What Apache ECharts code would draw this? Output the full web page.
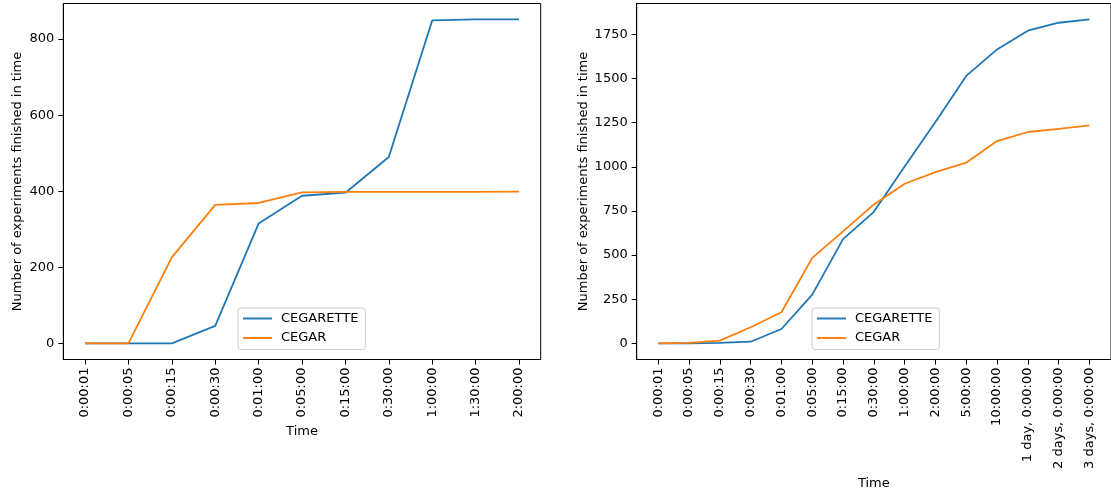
<!DOCTYPE html>
<html>
<head>
<meta charset="utf-8">
<script src="https://cdn.jsdelivr.net/npm/echarts@6/dist/echarts.min.js"></script>
<style>
html,body{margin:0;padding:0;background:#fff;}
#c{width:1111px;height:495px;}
</style>
</head>
<body>
<div id="c"></div>
<script>
// ---- data ----
const leftCategories = ['0:00:01','0:00:05','0:00:15','0:00:30','0:01:00','0:05:00','0:15:00','0:30:00','1:00:00','1:30:00','2:00:00'];
const leftCegarette = [0, 0, 0, 46, 315, 388, 396, 490, 849, 852, 852];
const leftCegar = [0, 0, 226, 364, 369, 397, 398, 398, 398, 398, 399];
const leftYTicks = [0, 200, 400, 600, 800];

const rightCategories = ['0:00:01','0:00:05','0:00:15','0:00:30','0:01:00','0:05:00','0:15:00','0:30:00','1:00:00','2:00:00','5:00:00','10:00:00','1 day, 0:00:00','2 days, 0:00:00','3 days, 0:00:00'];
const rightCegarette = [0, 0, 2, 9, 81, 276, 590, 745, 1002, 1254, 1515, 1665, 1771, 1816, 1835];
const rightCegar = [0, 2, 15, 91, 176, 484, 634, 787, 904, 970, 1023, 1146, 1197, 1215, 1235];
const rightYTicks = [0, 250, 500, 750, 1000, 1250, 1500, 1750];

const seriesNames = ['CEGARETTE', 'CEGAR'];
const colors = ['#1f77b4', '#ff7f0e'];
const yName = 'Number of experiments finished in time';
const xName = 'Time';

// ---- chart ----
const FONT = 'DejaVu Sans';
const FS = 13;
function pairs(arr){ return arr.map((v,i)=>[i,v]); }
function idxList(n){ return Array.from({length:n},(_,i)=>i); }

function xAxis(gridIndex, cats, pad, gap){
  return {
    type:'value', gridIndex, min:-pad, max:cats.length-1+pad,
    name:xName, nameLocation:'middle', nameGap:gap,
    nameTextStyle:{fontFamily:FONT, fontSize:FS, color:'#000'},
    axisLine:{show:true, onZero:false, lineStyle:{color:'#000', width:1}},
    axisTick:{show:true, inside:false, length:5, lineStyle:{color:'#000'}, customValues:idxList(cats.length)},
    axisLabel:{rotate:90, fontFamily:FONT, fontSize:FS, color:'#000', margin:8,
      customValues:idxList(cats.length), formatter:v=>cats[Math.round(v)]},
    splitLine:{show:false}
  };
}
function yAxis(gridIndex, min, max, ticks, gap){
  return {
    type:'value', gridIndex, min, max,
    name:yName, nameLocation:'middle', nameGap:gap,
    nameTextStyle:{fontFamily:FONT, fontSize:FS, color:'#000'},
    axisLine:{show:true, onZero:false, lineStyle:{color:'#000', width:1}},
    axisTick:{show:true, inside:false, length:5, lineStyle:{color:'#000'}, customValues:ticks},
    axisLabel:{fontFamily:FONT, fontSize:FS, color:'#000', margin:9, customValues:ticks,
      formatter:v=>String(v)},
    splitLine:{show:false}
  };
}
function legend(left, top){
  return {
    orient:'vertical', left, top,
    data: seriesNames,
    icon:'path://M0,0 L30,0 L30,2 L0,2 Z',
    itemWidth:29, itemHeight:14, itemGap:6.5,
    padding:[4,7,5,5],
    borderColor:'#cccccc', borderWidth:1, borderRadius:3,
    backgroundColor:'rgba(255,255,255,0.8)',
    textStyle:{fontFamily:FONT, fontSize:FS, color:'#000', padding:[0,0,0,4]}
  };
}

const chart = echarts.init(document.getElementById('c'), null, {renderer:'canvas'});
const mkSeries = (name, data, ci, xi) => ({
  name, type:'line', xAxisIndex:xi, yAxisIndex:xi, data,
  symbol:'none', lineStyle:{color:colors[ci], width:1.8}, itemStyle:{color:colors[ci]},
  animation:false, z:3
});

chart.setOption({
  animation:false,
  grid:[
    {left:63.3, right:1111-540.7, top:3.5, bottom:495-359.5, show:true, borderColor:'#000', borderWidth:1, containLabel:false},
    {left:636.7, right:-3, top:3.5, bottom:495-359.5, show:true, borderColor:'#000', borderWidth:1, containLabel:false}
  ],
  xAxis:[
    xAxis(0, leftCategories, 0.5, 66),
    xAxis(1, rightCategories, 0.7, 117)
  ],
  yAxis:[
    yAxis(0, -42.5, 893.5, leftYTicks, 39),
    yAxis(1, -91.7, 1925, rightYTicks, 47)
  ],
  legend:[ legend(238, 308), legend(812, 308) ],
  series:[
    mkSeries(seriesNames[0], pairs(leftCegarette), 0, 0),
    mkSeries(seriesNames[1], pairs(leftCegar), 1, 0),
    mkSeries(seriesNames[0], pairs(rightCegarette), 0, 1),
    mkSeries(seriesNames[1], pairs(rightCegar), 1, 1)
  ]
});
</script>
</body>
</html>
